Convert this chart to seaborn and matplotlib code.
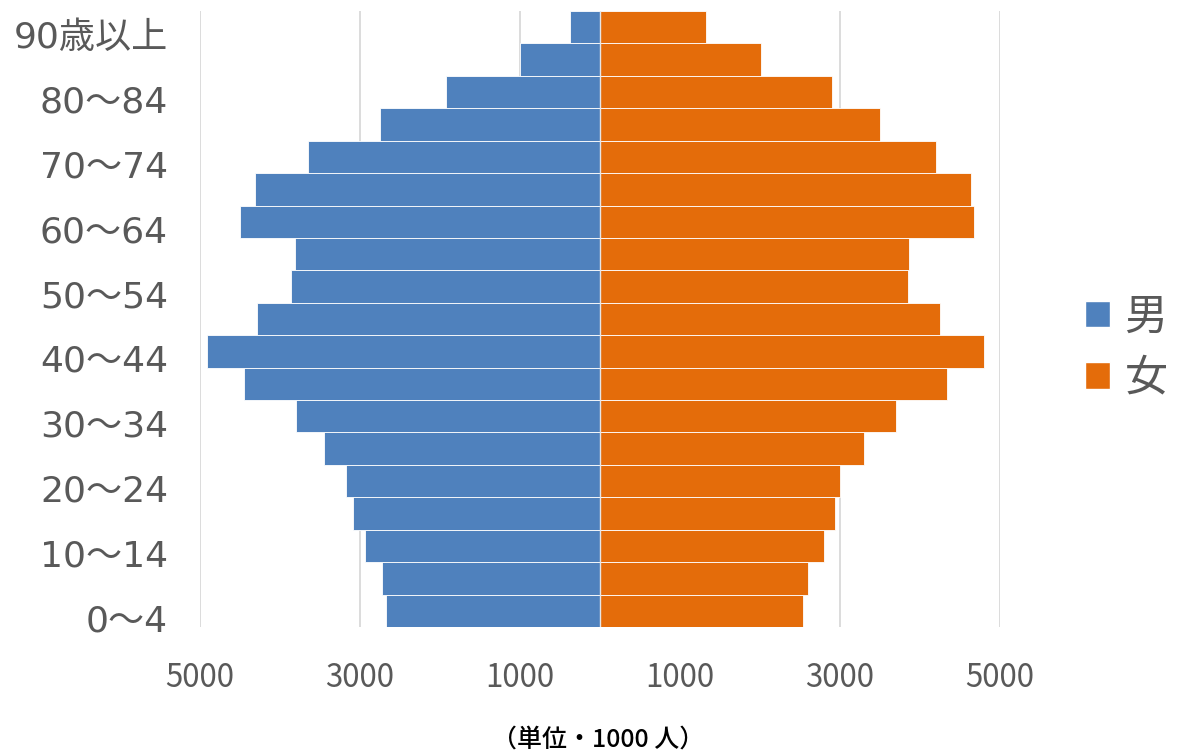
import pandas as pd
import matplotlib.pyplot as plt
import matplotlib.transforms as mtransforms
import seaborn as sns
from matplotlib.patches import Patch

# age groups, top to bottom
AGES = ["90歳以上", "85〜89", "80〜84", "75〜79", "70〜74", "65〜69", "60〜64",
        "55〜59", "50〜54", "45〜49", "40〜44", "35〜39", "30〜34", "25〜29",
        "20〜24", "15〜19", "10〜14", "5〜9", "0〜4"]

# population in thousands, same order as AGES
MALE = [369, 1006, 1919, 2756, 3652, 4315, 4506, 3815, 3860, 4290,
        4910, 4452, 3806, 3447, 3172, 3085, 2935, 2722, 2672]
FEMALE = [1319, 2010, 2902, 3494, 4198, 4640, 4677, 3865, 3852, 4244,
          4798, 4335, 3698, 3302, 3006, 2940, 2798, 2598, 2540]

SEXES = ["男", "女"]
COLORS = ["#4F81BD", "#E46C0A"]
XTICKS = [-5000, -3000, -1000, 1000, 3000, 5000]


def build_frame():
    records = []
    for age, m, f in zip(AGES, MALE, FEMALE):
        records.append({"年齢": age, "性別": "男", "人口": -m})
        records.append({"年齢": age, "性別": "女", "人口": f})
    return pd.DataFrame(records)


def plot_pyramid(df):
    sns.set_theme(style="white")
    plt.rcParams["font.family"] = ["Noto Sans CJK JP", "DejaVu Sans"]

    fig = plt.figure(figsize=(11.78, 7.53), dpi=100)
    ax = fig.add_axes([200 / 1178, 126 / 753, 800 / 1178, 616 / 753])

    sns.barplot(
        data=df, x="人口", y="年齢", hue="性別", order=AGES, hue_order=SEXES,
        palette=COLORS, saturation=1, dodge=False, orient="h", width=1.0,
        edgecolor="white", linewidth=0.6, legend=False, ax=ax,
    )
    ax.axvline(0, color="#e6e6e6", lw=1.0, zorder=3)

    ax.set_xlim(-5000, 5000)
    ax.set_ylim(len(AGES) - 0.5, -0.5)
    ax.set_xticks(XTICKS)
    ax.set_xticklabels([f"{abs(v)}" for v in XTICKS], fontsize=22.5, color="#595959")
    ax.set_yticks(range(0, len(AGES), 2))
    ax.set_yticklabels(AGES[::2], fontsize=26, color="#595959",
                       family=["DejaVu Sans", "Noto Sans CJK JP"])
    ax.tick_params(axis="x", length=0, pad=25)
    ax.tick_params(axis="y", length=0, pad=23)
    # Excel sits the category labels a little below the bar centres
    shift = mtransforms.ScaledTranslation(0, -0.07, fig.dpi_scale_trans)
    for lab in ax.get_yticklabels():
        lab.set_transform(lab.get_transform() + shift)
    ax.set_xlabel("")
    ax.set_ylabel("")

    ax.grid(axis="x", color="#d9d9d9", lw=1.3)
    ax.set_axisbelow(True)
    for s in ax.spines.values():
        s.set_visible(False)

    handles = [Patch(facecolor=c, label=s) for s, c in zip(SEXES, COLORS)]
    fig.legend(handles=handles, loc="center left",
               bbox_to_anchor=(1085 / 1178, 1 - 348 / 753), frameon=False,
               borderpad=0, borderaxespad=0,
               fontsize=31, labelcolor="#595959", handlelength=0.57,
               handleheight=0.57, handletextpad=0.35, labelspacing=0.4)

    fig.text(598 / 1178, 1 - 740 / 753, "（単位・1000 人）", ha="center",
             va="center", fontsize=18, color="black", fontweight="medium")

    fig.savefig("out.png", dpi=100)


if __name__ == "__main__":
    plot_pyramid(build_frame())
